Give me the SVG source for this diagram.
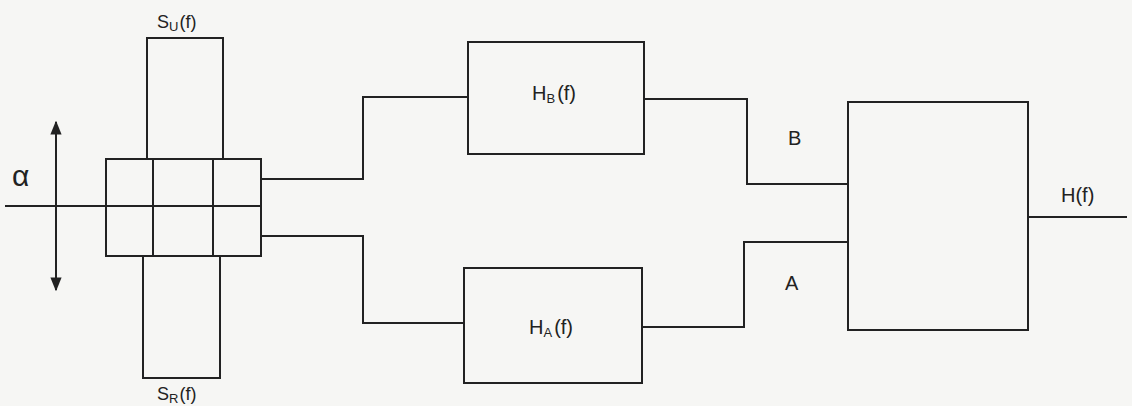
<svg xmlns="http://www.w3.org/2000/svg" width="1132" height="406" viewBox="0 0 1132 406">
<style>
.ln{fill:none;stroke:#222;stroke-width:2}
.bx{fill:none;stroke:#222;stroke-width:2}
.t{font-family:"Liberation Sans",Arial,sans-serif;font-size:18px;fill:#222}
.b{font-size:20px}
.s{font-size:13px}
</style>
<defs>
<marker id="ah" viewBox="0 0 10 10" refX="9" refY="5" markerWidth="7" markerHeight="7" orient="auto-start-reverse">
<path d="M0,1 L10,5 L0,9 Z" fill="#222"/>
</marker>
</defs>
<rect width="1132" height="406" fill="#f6f6f4"/>
<g id="alpha">
<text class="t" x="12" y="186" style="font-size:30px">α</text>
<line class="ln" x1="56" y1="290" x2="56" y2="122" marker-start="url(#ah)" marker-end="url(#ah)"/>
</g>
<g id="su">
<rect class="bx" x="147" y="38" width="76" height="121"/>
<text class="t" x="157" y="28">S<tspan class="s" dy="3">U</tspan><tspan dy="-3" dx="1">(f)</tspan></text>
</g>
<g id="sr">
<rect class="bx" x="143" y="256" width="77" height="122"/>
<text class="t" x="157" y="400">S<tspan class="s" dy="3">R</tspan><tspan dy="-3" dx="1">(f)</tspan></text>
</g>
<g id="center">
<rect class="bx" x="106" y="159" width="155" height="97"/>
<line class="ln" x1="153" y1="159" x2="153" y2="256"/>
<line class="ln" x1="213" y1="159" x2="213" y2="256"/>
</g>
<g id="hb">
<rect class="bx" x="468" y="42" width="176" height="112"/>
<text class="t b" x="532" y="100">H<tspan class="s" dy="3">B</tspan><tspan dy="-3" dx="2">(f)</tspan></text>
</g>
<g id="ha">
<rect class="bx" x="464" y="268" width="178" height="115"/>
<text class="t b" x="529" y="334">H<tspan class="s" dy="3">A</tspan><tspan dy="-3" dx="2">(f)</tspan></text>
</g>
<g id="combiner">
<rect class="bx" x="848" y="102" width="180" height="228"/>
</g>
<g id="connectors">
<line class="ln" x1="5" y1="206" x2="261" y2="206"/>
<polyline class="ln" points="261,179 363,179 363,97 468,97"/>
<polyline class="ln" points="261,236 363,236 363,323 464,323"/>
<polyline class="ln" points="644,99 747,99 747,184 848,184"/>
<polyline class="ln" points="642,327 744,327 744,242 848,242"/>
<line class="ln" x1="1028" y1="217" x2="1127" y2="217"/>
<text class="t b" x="788" y="145">B</text>
<text class="t b" x="785" y="290">A</text>
<text class="t b" x="1061" y="202">H(f)</text>
</g>
</svg>
